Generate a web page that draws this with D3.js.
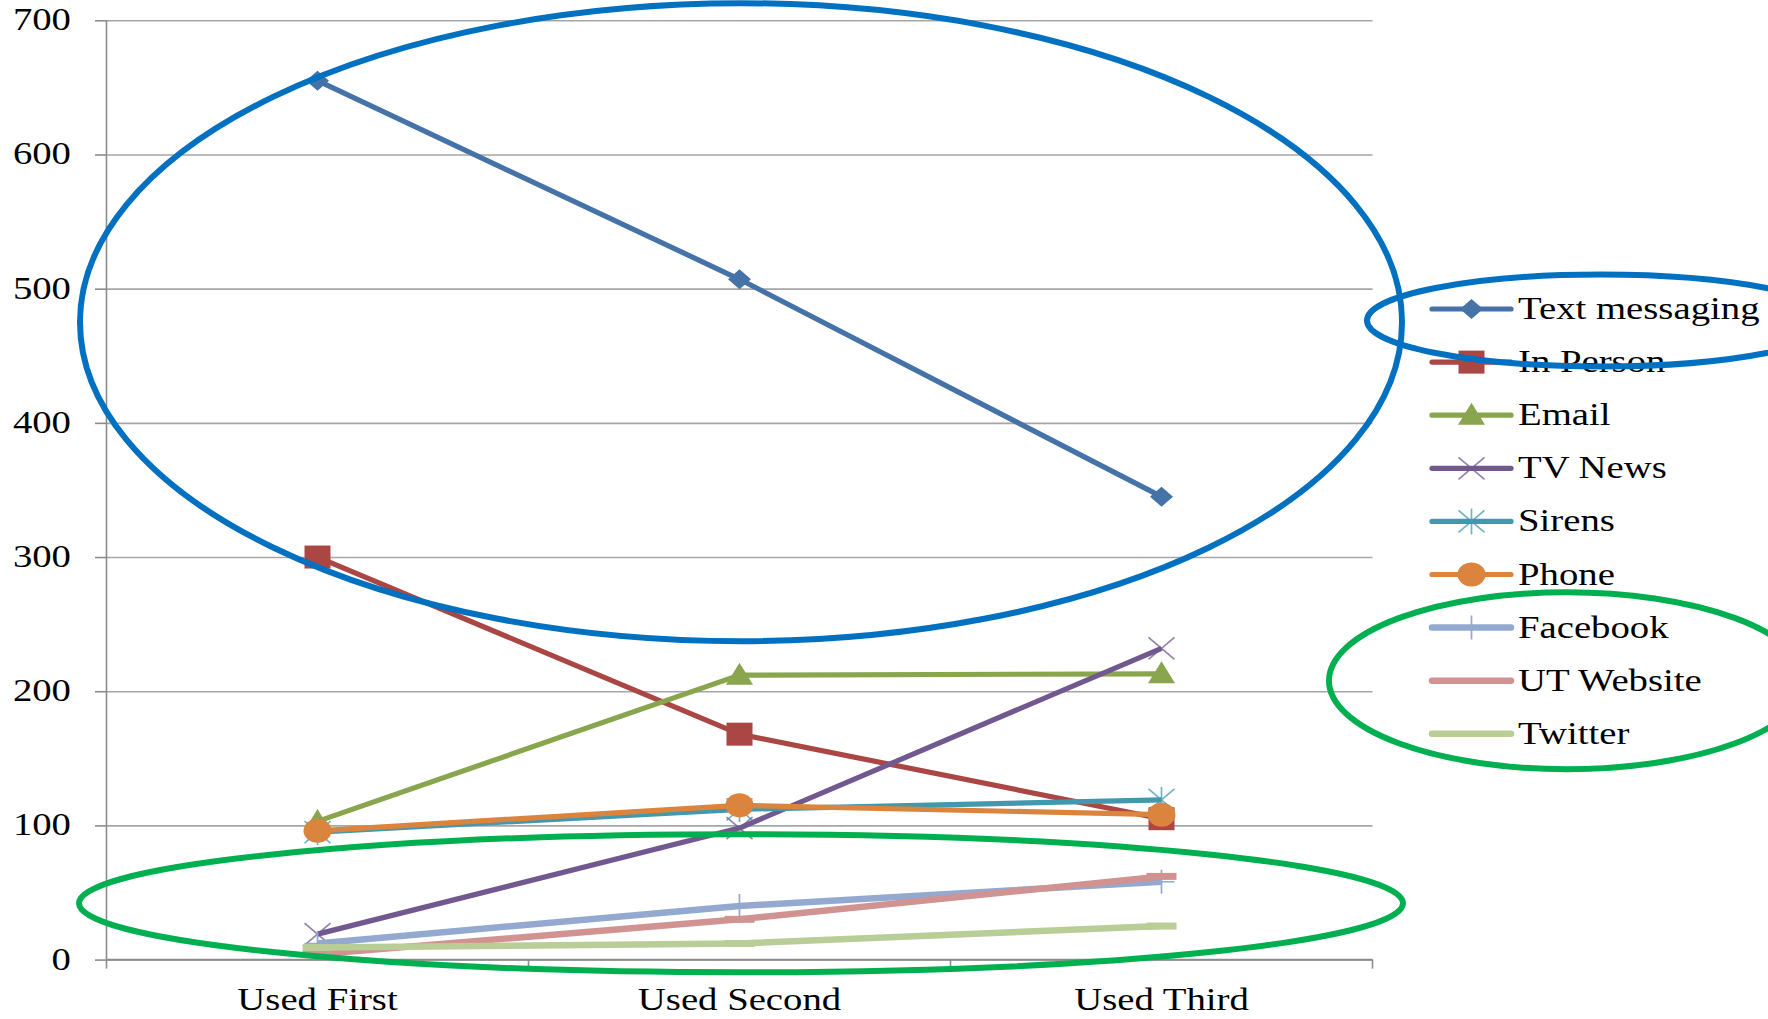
<!DOCTYPE html>
<html>
<head>
<meta charset="utf-8">
<script src="https://cdn.jsdelivr.net/npm/d3@7"></script>
<style>
  html, body { margin: 0; padding: 0; background: #ffffff; }
  svg { display: block; }
  text { font-family: "Liberation Serif", "DejaVu Serif", serif; fill: #000; }
</style>
</head>
<body>
<svg id="chart" width="1768" height="1019"></svg>
<script>
// ---- data ----
const categories = ["Used First", "Used Second", "Used Third"];
const seriesNames = ["Text messaging", "In Person", "Email", "TV News", "Sirens",
                     "Phone", "Facebook", "UT Website", "Twitter"];
const textMessaging = [655, 507, 345];
const inPerson      = [300, 168, 105];
const email         = [103, 212, 213];
const tvNews        = [19, 98, 232];
const sirens        = [95, 112, 119];
const phone         = [96, 115, 108];
const facebook      = [12, 40, 58];
const utWebsite     = [4, 30, 62];
const twitter       = [9, 12, 25];
const yTicks = [0, 100, 200, 300, 400, 500, 600, 700];

const seriesValues = [textMessaging, inPerson, email, tvNews, sirens, phone, facebook, utWebsite, twitter];
const seriesColors = ["#4572A7", "#AA4643", "#89A54E", "#71588F", "#4198AF",
                      "#DB843D", "#93A9CF", "#D19392", "#B9CD96"];
const seriesMarkers = ["diamond", "square", "triangle", "x", "star", "circle", "plus", "dash", "dash"];

const series = seriesNames.map((name, i) => ({
  name, color: seriesColors[i], marker: seriesMarkers[i],
  points: categories.map((c, j) => ({ cat: c, value: seriesValues[i][j] }))
}));

// ---- layout ----
const plotLeft = 106.5, plotRight = 1372.5, plotTop = 20.3, plotBottom = 959.6;
const stretch = 1.25;       // horizontally widened lettering
const fontSize = 31;

const svg = d3.select("#chart");

const x = d3.scalePoint().domain(categories).range([plotLeft, plotRight]).padding(0.5);
const band = d3.scaleBand().domain(categories).range([plotLeft, plotRight]);
const y = d3.scaleLinear().domain([0, 700]).range([plotBottom, plotTop]);

// horizontal gridlines
const grid = svg.append("g").attr("transform", `translate(${plotLeft},0)`)
  .call(d3.axisLeft(y).tickValues(yTicks).tickSize(-(plotRight - plotLeft)).tickFormat(""));
grid.select(".domain").remove();
grid.selectAll("line").attr("stroke", "#a6a6a6").attr("stroke-width", 1.6);

// y axis with outward ticks
const yAxis = svg.append("g").attr("transform", `translate(${plotLeft},0)`)
  .call(d3.axisLeft(y).tickValues(yTicks).tickSize(11.5).tickFormat(""));
yAxis.select(".domain").attr("stroke", "#8c8c8c").attr("stroke-width", 1.6)
  .attr("d", `M0,${plotTop}V${plotBottom}`);
yAxis.selectAll("line").attr("stroke", "#8c8c8c").attr("stroke-width", 1.6);

svg.append("g").selectAll("text").data(yTicks).join("text")
  .attr("transform", d => `translate(71,${y(d) + 10}) scale(${stretch},1)`)
  .attr("text-anchor", "end")
  .attr("font-size", fontSize)
  .text(d => d);

// x axis: baseline, boundary ticks, category labels
const xAxis = svg.append("g");
xAxis.append("line")
  .attr("x1", plotLeft).attr("x2", plotRight)
  .attr("y1", y(0)).attr("y2", y(0))
  .attr("stroke", "#8c8c8c").attr("stroke-width", 1.6);
const boundaries = categories.map(c => band(c)).concat([plotRight]);
xAxis.selectAll("line.tick").data(boundaries).join("line")
  .attr("class", "tick")
  .attr("x1", d => d).attr("x2", d => d)
  .attr("y1", y(0)).attr("y2", y(0) + 9)
  .attr("stroke", "#8c8c8c").attr("stroke-width", 1.6);
xAxis.selectAll("text").data(categories).join("text")
  .attr("transform", d => `translate(${x(d)},1010) scale(${stretch},1)`)
  .attr("text-anchor", "middle")
  .attr("font-size", fontSize)
  .text(d => d);

// ---- markers ----
function drawMarker(g, type, color) {
  const thin = { stroke: color, "stroke-width": 1.7, fill: "none" };
  const apply = (sel, attrs) => { Object.entries(attrs).forEach(([k, v]) => sel.attr(k, v)); return sel; };
  switch (type) {
    case "diamond":
      g.append("path").attr("d", "M0,-10L11.5,0L0,10L-11.5,0Z").attr("fill", color);
      break;
    case "square":
      g.append("rect").attr("x", -13).attr("y", -11.5).attr("width", 26).attr("height", 23).attr("fill", color);
      break;
    case "triangle":
      g.append("path").attr("d", "M0,-12.5L13.5,9.5L-13.5,9.5Z").attr("fill", color);
      break;
    case "circle":
      g.append("ellipse").attr("rx", 14).attr("ry", 12).attr("fill", color);
      break;
    case "x":
      apply(g.append("path").attr("d", "M-13,-11L13,11M-13,11L13,-11"), thin).attr("stroke-opacity", 0.75);
      break;
    case "star":
      apply(g.append("path").attr("d", "M-13,-11L13,11M-13,11L13,-11M0,-13V13"), thin).attr("stroke-opacity", 0.75);
      break;
    case "plus":
      apply(g.append("path").attr("d", "M0,-12V12M-13,0H13"), thin);
      break;
    case "dash":
      g.append("rect").attr("x", -15).attr("y", -3.5).attr("width", 30).attr("height", 7).attr("fill", color);
      break;
  }
}

// ---- series ----
const line = d3.line().x(d => x(d.cat)).y(d => y(d.value));
const lightSeries = new Set(["Facebook", "UT Website", "Twitter"]);
const widthOf = s => lightSeries.has(s.name) ? 6.5 : 5.2;

series.forEach(s => {
  const g = svg.append("g").attr("class", "series");
  g.append("path").datum(s.points)
    .attr("d", line)
    .attr("fill", "none")
    .attr("stroke", s.color)
    .attr("stroke-width", widthOf(s))
    .attr("stroke-linejoin", "round");
  g.selectAll("g.mk").data(s.points).join("g")
    .attr("class", "mk")
    .attr("transform", d => `translate(${x(d.cat)},${y(d.value)})`)
    .each(function () { drawMarker(d3.select(this), s.marker, s.color); });
});

// ---- legend ----
const legendTop = 309, legendStep = 53.1, legX1 = 1432, legX2 = 1511, legText = 1518;
const legend = svg.append("g");
series.forEach((s, i) => {
  const ly = legendTop + i * legendStep;
  const row = legend.append("g");
  row.append("line").attr("x1", legX1).attr("x2", legX2).attr("y1", ly).attr("y2", ly)
    .attr("stroke", s.color).attr("stroke-width", widthOf(s))
    .attr("stroke-linecap", "round");
  if (s.marker !== "dash") {
    drawMarker(row.append("g").attr("transform", `translate(${(legX1 + legX2) / 2},${ly})`), s.marker, s.color);
  }
  row.append("text")
    .attr("transform", `translate(${legText},${ly + 10}) scale(${stretch},1)`)
    .attr("font-size", fontSize)
    .text(s.name);
});

// ---- highlight rings ----
const rings = svg.append("g").attr("fill", "none").attr("stroke-width", 6);
rings.append("ellipse")   // high-usage group
  .attr("cx", 741).attr("cy", y(475)).attr("rx", 661).attr("ry", 319)
  .attr("stroke", "#0070C0");
rings.append("ellipse")   // around its legend entry
  .attr("cx", 1601).attr("cy", legendTop + 11.5).attr("rx", 234).attr("ry", 46)
  .attr("stroke", "#0070C0");
rings.append("ellipse")   // low-usage group
  .attr("cx", 741).attr("cy", y(42)).attr("rx", 662).attr("ry", 69)
  .attr("stroke", "#00B050");
rings.append("ellipse")   // around their legend entries
  .attr("cx", 1567).attr("cy", legendTop + 7 * legendStep).attr("rx", 238).attr("ry", 88.5)
  .attr("stroke", "#00B050");
</script>
</body>
</html>
